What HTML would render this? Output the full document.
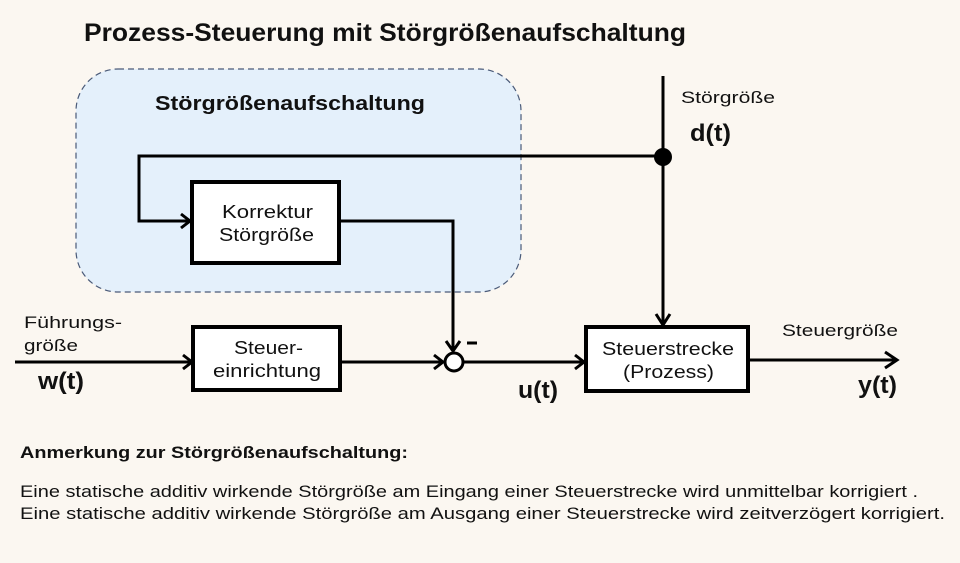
<!DOCTYPE html>
<html><head><meta charset="utf-8"><style>
body{margin:0;background:#fbf7f1;}
svg{display:block;font-family:"Liberation Sans",sans-serif;}
</style></head><body>
<svg width="960" height="563" viewBox="0 0 960 563">
<rect width="960" height="563" fill="#fbf7f1"/>
<text x="84" y="41" font-size="25" font-weight="bold" fill="#111" textLength="602" lengthAdjust="spacingAndGlyphs">Prozess-Steuerung mit Störgrößenaufschaltung</text>
<rect x="76" y="69" width="445" height="223" rx="42" fill="#e4f0fb" stroke="#4a5a78" stroke-width="1.2" stroke-dasharray="6,4"/>
<text x="155" y="110" font-size="20" font-weight="bold" fill="#111" textLength="270" lengthAdjust="spacingAndGlyphs">Störgrößenaufschaltung</text>
<g stroke="#000" stroke-width="3" fill="none">
<polyline points="663,156 139,156 139,221 190,221"/>
<polyline points="181,214 190,221 181,228"/>
<polyline points="339,221 453,221 453,350"/>
<polyline points="446,341 453,351 460,341"/>
<line x1="663" y1="76" x2="663" y2="324"/>
<polyline points="656,314 663,325 670,314"/>
<line x1="15" y1="362" x2="192" y2="362"/>
<polyline points="183,355 192,362 183,369"/>
<line x1="340" y1="362" x2="443" y2="362"/>
<polyline points="434,355 443,362 434,369"/>
<line x1="464" y1="362" x2="584" y2="362"/>
<polyline points="575,355 584,362 575,369"/>
<line x1="748" y1="360" x2="897" y2="360"/>
<polyline points="885,352 897,360 885,368"/>
</g>
<rect x="192" y="182" width="147" height="81" fill="#fff" stroke="#000" stroke-width="4"/>
<rect x="193" y="327" width="147" height="63" fill="#fff" stroke="#000" stroke-width="4"/>
<rect x="586" y="327" width="162" height="64" fill="#fff" stroke="#000" stroke-width="4"/>
<circle cx="454" cy="362" r="9" fill="#fff" stroke="#000" stroke-width="3"/>
<circle cx="663" cy="157" r="9" fill="#000"/>
<line x1="467" y1="343" x2="477" y2="343" stroke="#000" stroke-width="3"/>
<g font-size="18" fill="#111" lengthAdjust="spacingAndGlyphs">
<text x="222" y="218" textLength="91" lengthAdjust="spacingAndGlyphs">Korrektur</text>
<text x="219" y="241" textLength="95" lengthAdjust="spacingAndGlyphs">Störgröße</text>
<text x="234" y="354" textLength="69" lengthAdjust="spacingAndGlyphs">Steuer-</text>
<text x="213" y="377" textLength="108" lengthAdjust="spacingAndGlyphs">einrichtung</text>
<text x="602" y="355" textLength="132" lengthAdjust="spacingAndGlyphs">Steuerstrecke</text>
<text x="623" y="378" textLength="91" lengthAdjust="spacingAndGlyphs">(Prozess)</text>
</g>
<g font-size="17" fill="#111">
<text x="681" y="103" textLength="94" lengthAdjust="spacingAndGlyphs">Störgröße</text>
<text x="24" y="328" textLength="98" lengthAdjust="spacingAndGlyphs">Führungs-</text>
<text x="24" y="351" textLength="54" lengthAdjust="spacingAndGlyphs">größe</text>
<text x="782" y="336" textLength="116" lengthAdjust="spacingAndGlyphs">Steuergröße</text>
</g>
<g font-size="24" font-weight="bold" fill="#111">
<text x="690" y="141" textLength="41" lengthAdjust="spacingAndGlyphs">d(t)</text>
<text x="38" y="389" textLength="46" lengthAdjust="spacingAndGlyphs">w(t)</text>
<text x="518" y="398" textLength="40" lengthAdjust="spacingAndGlyphs">u(t)</text>
<text x="858" y="393" textLength="39" lengthAdjust="spacingAndGlyphs">y(t)</text>
</g>
<text x="20" y="458" font-size="17" font-weight="bold" fill="#111" textLength="388" lengthAdjust="spacingAndGlyphs">Anmerkung zur Störgrößenaufschaltung:</text>
<text x="20" y="497" font-size="17" fill="#111" textLength="898" lengthAdjust="spacingAndGlyphs">Eine statische additiv wirkende Störgröße am Eingang einer Steuerstrecke wird unmittelbar korrigiert .</text>
<text x="20" y="519" font-size="17" fill="#111" textLength="925" lengthAdjust="spacingAndGlyphs">Eine statische additiv wirkende Störgröße am Ausgang einer Steuerstrecke  wird  zeitverzögert korrigiert.</text>
</svg>
</body></html>
